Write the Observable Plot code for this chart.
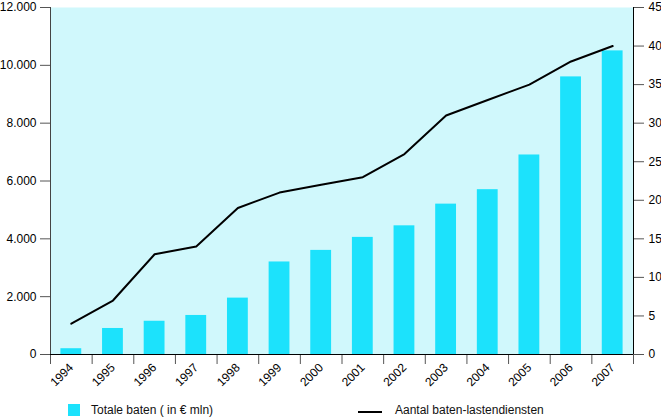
<!DOCTYPE html>
<html><head><meta charset="utf-8">
<script src="https://cdn.jsdelivr.net/npm/d3@7"></script>
<script src="https://cdn.jsdelivr.net/npm/@observablehq/plot@0.6"></script>
<style>
body{margin:0;background:#fff;font-family:"Liberation Sans",Arial,sans-serif;}
#wrap{position:relative;width:661px;height:418px;overflow:hidden;}
#chart{position:absolute;left:0;top:0;}
.lg{position:absolute;font-size:12px;color:#111;white-space:nowrap;line-height:14px;}
</style></head><body><div id="wrap"><div id="chart"></div>
<div class="lg" style="left:68px;top:404px;width:12px;height:12px;background:#1ce2fc"></div>
<div class="lg" style="left:91px;top:403px;">Totale baten ( in € mln)</div>
<div class="lg" style="left:358px;top:411px;width:24px;height:2px;background:#000"></div>
<div class="lg" style="left:395px;top:403px;">Aantal baten-lastendiensten</div>
</div>
<script>
const years = [1994,1995,1996,1997,1998,1999,2000,2001,2002,2003,2004,2005,2006,2007];
const baten = [200,900,1150,1350,1950,3200,3600,4050,4450,5200,5700,6900,9600,10500];
const diensten = [4,7,13,14,19,21,22,23,26,31,33,35,38,40];
const leftTicks = [0,2000,4000,6000,8000,10000,12000];
const rightTicks = [0,5,10,15,20,25,30,35,40,45];

const RATIO = 12000/45;
const data = years.map((y,i)=>({year:y, baten:baten[i], diensten:diensten[i]}));
const boundaries = [...years.map(y=>y-0.5), years[years.length-1]+0.5];
const nl = d3.formatLocale({decimal:",", thousands:".", grouping:[3], currency:["€",""]});
const fmt = nl.format(",");

const chart = Plot.plot({
  width:661, height:400,
  marginTop:7, marginBottom:46, marginLeft:50, marginRight:28,
  style:{fontSize:"12px", fontFamily:"'Liberation Sans', Arial, sans-serif", color:"#000", background:"transparent"},
  x:{type:"linear", domain:[1993.5, 2007.5]},
  y:{domain:[0,12000]},
  marks:[
    Plot.frame({fill:"#d0f8fc", stroke:null}),
    Plot.rectY(data,{x1:d=>d.year-0.25, x2:d=>d.year+0.25, y:"baten", fill:"#1ce2fc"}),
    Plot.line(data,{x:"year", y:d=>d.diensten*RATIO, stroke:"#000", strokeWidth:2}),
    Plot.axisY({anchor:"left", ticks:leftTicks, tickFormat:fmt, tickSize:10, tickPadding:4, label:null, stroke:"#555"}),
    Plot.axisY({anchor:"right", ticks:rightTicks.map(v=>v*RATIO), tickFormat:d=>String(Math.round(d/RATIO)), tickSize:10, tickPadding:5, label:null, stroke:"#555"}),
    Plot.axisX({ticks:years, tickSize:0, tickPadding:11, tickRotate:-45, tickFormat:d=>String(d), label:null}),
    Plot.axisX({ticks:boundaries, tickSize:10, tickFormat:()=>"", label:null, stroke:"#555"}),
    Plot.ruleX([1993.5],{stroke:"#444"}),
    Plot.ruleX([2007.5],{stroke:"#000"}),
    Plot.ruleY([0],{stroke:"#000"})
  ]
});
document.getElementById("chart").appendChild(chart);
</script></body></html>
